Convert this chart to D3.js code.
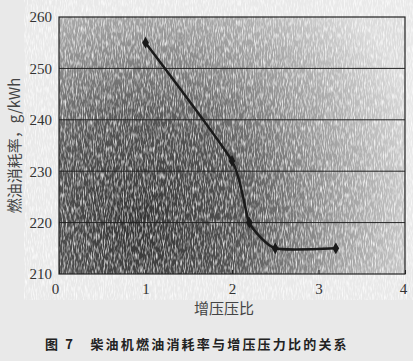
<!DOCTYPE html>
<html>
<head>
<meta charset="utf-8">
<script src="https://cdn.jsdelivr.net/npm/d3@7"></script>
<style>
  body { margin: 0; background: #e9e9e9; }
  svg { display: block; }
</style>
</head>
<body>
<svg id="chart"></svg>
<script>
// data
let ratio = [1.0, 2.0, 2.2, 2.5, 3.2]
let sfc = [255, 232, 220, 215, 215]
let xTicks = [0, 1, 2, 3, 4]
let yTicks = [210, 220, 230, 240, 250, 260]

let width = 413
let height = 361
let margin = {top: 17, right: 8, bottom: 87, left: 59}

const svg = d3.select("#chart")
  .attr("width", width)
  .attr("height", height)

let x = d3.scaleLinear().domain([0, 4]).range([margin.left, 405])
let y = d3.scaleLinear().domain([210, 260]).range([274, margin.top])

const defs = svg.append("defs")

// scanned-paper look
let grad = defs.append("radialGradient")
  .attr("id", "bg")
  .attr("gradientUnits", "userSpaceOnUse")
  .attr("cx", 140).attr("cy", 225).attr("r", 300)
grad.append("stop").attr("offset", "0%").attr("stop-color", "#333")
grad.append("stop").attr("offset", "35%").attr("stop-color", "#555")
grad.append("stop").attr("offset", "65%").attr("stop-color", "#9a9a9a")
grad.append("stop").attr("offset", "100%").attr("stop-color", "#dcdcdc")

let filt = defs.append("filter").attr("id", "noise")
filt.append("feTurbulence")
  .attr("type", "fractalNoise")
  .attr("baseFrequency", "0.9 0.15")
  .attr("numOctaves", 2)
  .attr("seed", 3)
filt.append("feColorMatrix")
  .attr("type", "matrix")
  .attr("values", "0 0 0 0 1  0 0 0 0 1  0 0 0 0 1  0 0 0 -2.4 1.4")

let plotRect = g => g
  .attr("x", x(0)).attr("y", y(260))
  .attr("width", x(4) - x(0)).attr("height", y(210) - y(260))

// plot background
svg.append("rect").call(plotRect)
  .attr("fill", "url(#bg)")
svg.append("rect").call(plotRect)
  .attr("filter", "url(#noise)")
  .attr("opacity", 0.8)

// grid lines
svg.append("g")
  .selectAll("line")
  .data(yTicks.slice(1, -1))
  .join("line")
    .attr("x1", x(0)).attr("x2", x(4))
    .attr("y1", d => y(d)).attr("y2", d => y(d))
    .attr("stroke", "#222")
    .attr("stroke-width", 1)

// frame
svg.append("rect").call(plotRect)
  .attr("fill", "none")
  .attr("stroke", "#222")
  .attr("stroke-width", 1.2)

// axes
let xAxis = g => g
  .attr("transform", `translate(0,${y(210)})`)
  .call(d3.axisBottom(x).tickValues(xTicks).tickFormat(d3.format("d")).tickSize(-4).tickPadding(9))
  .call(g => g.select(".domain").remove())
  .call(g => g.selectAll(".tick line").attr("stroke", "#222"))
  .call(g => g.selectAll(".tick text")
    .attr("dx", d => d === 0 ? -4 : (d === 4 ? -2 : 0))
    .attr("font-family", "Liberation Serif, serif")
    .attr("font-size", 15)
    .attr("fill", "#333"))

let yAxis = g => g
  .attr("transform", `translate(${x(0)},0)`)
  .call(d3.axisLeft(y).tickValues(yTicks).tickSize(0).tickPadding(7))
  .call(g => g.select(".domain").remove())
  .call(g => g.selectAll(".tick text")
    .attr("font-family", "Liberation Serif, serif")
    .attr("font-size", 15)
    .attr("fill", "#333"))

svg.append("g").call(xAxis)
svg.append("g").call(yAxis)

// curve
let line = d3.line()
  .x((d, i) => x(ratio[i]))
  .y(d => y(d))
  .curve(d3.curveCardinal.tension(0.45))

svg.append("path")
  .datum(sfc)
  .attr("d", line)
  .attr("fill", "none")
  .attr("stroke", "#1a1a1a")
  .attr("stroke-width", 2.5)

svg.append("g")
  .selectAll("path")
  .data(sfc)
  .join("path")
    .attr("transform", (d, i) => `translate(${x(ratio[i])},${y(d)})`)
    .attr("d", d3.symbol(d3.symbolDiamond, 40))
    .attr("fill", "#1a1a1a")

// titles
svg.append("text")
  .attr("transform", `translate(20,${(y(210) + y(260)) / 2}) rotate(-90)`)
  .attr("text-anchor", "middle")
  .attr("font-family", "Noto Sans CJK SC, sans-serif")
  .attr("font-size", 15)
  .attr("fill", "#444")
  .text("燃油消耗率，g/kWh")

svg.append("text")
  .attr("x", x(2) - 8)
  .attr("y", 314)
  .attr("text-anchor", "middle")
  .attr("font-family", "Noto Sans CJK SC, sans-serif")
  .attr("font-size", 15)
  .attr("fill", "#444")
  .text("增压压比")

svg.append("text")
  .attr("x", 45)
  .attr("y", 349)
  .attr("font-family", "Noto Sans CJK SC, sans-serif")
  .attr("font-size", 13)
  .attr("font-weight", "bold")
  .attr("letter-spacing", 2.2)
  .attr("fill", "#222")
  .text("图 7　柴油机燃油消耗率与增压压力比的关系")
</script>
</body>
</html>
